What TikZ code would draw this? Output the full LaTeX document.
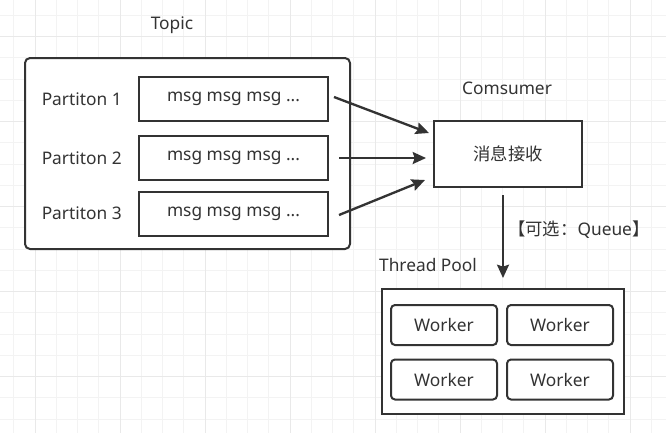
\documentclass[tikz,border=0pt]{standalone}
\usepackage{fontspec}
\setmainfont{Noto Sans}
\newfontfamily\cjk{Noto Sans CJK SC}
\usepackage{tikz}
\usetikzlibrary{arrows.meta, positioning, calc}
\definecolor{mqdark}{RGB}{51,51,51}
\definecolor{mqgrid}{RGB}{243,243,243}
\definecolor{mqgridmajor}{RGB}{233,233,233}
\tikzset{
  plainbox/.style={rectangle, draw=mqdark, line width=1.5pt, fill=white,
                   inner sep=0pt, text=mqdark, font=\fontsize{13}{15}\selectfont},
  groupbox/.style={plainbox, rounded corners=3.75pt},
  msgbox/.style={plainbox, minimum width=189*0.75pt, minimum height=44*0.75pt},
  workerbox/.style={plainbox, rounded corners=3pt,
                    minimum width=106*0.75pt, minimum height=40*0.75pt},
  caption/.style={inner sep=0pt, text=mqdark, font=\fontsize{13}{15}\selectfont},
  arrow/.style={-{Stealth[length=10pt, width=9pt, inset=1.5pt]},
                line width=1.75pt, draw=mqdark},
}

\begin{document}
\begin{tikzpicture}[x=0.75pt, y=-0.75pt]
  \useasboundingbox (0,0) rectangle (666,433);
  % background grid
  \foreach \i in {0,...,31} {
    \draw[mqgrid, line width=0.75pt] ({-7.5+21.25*\i},0) -- ({-7.5+21.25*\i},433);
  }
  \foreach \j in {0,...,20} {
    \draw[mqgrid, line width=0.75pt] (0,{-5.8+21.25*\j}) -- (666,{-5.8+21.25*\j});
  }
  \foreach \i in {0,...,7} {
    \draw[mqgridmajor, line width=0.75pt] ({35+85*\i},0) -- ({35+85*\i},433);
  }
  \foreach \j in {0,...,5} {
    \draw[mqgridmajor, line width=0.75pt] (0,{36.7+85*\j}) -- (666,{36.7+85*\j});
  }

  % topic with partitions
  \node[groupbox, minimum width=325*0.75pt, minimum height=191*0.75pt] (topic) at (187.5,153.5) {};
  \node[caption] (topiclbl) at (172,25) {Topic};
  \node[msgbox] (m1) at (233.5,99) {msg msg msg ...};
  \node[msgbox] (m2) at (233.5,158) {msg msg msg ...};
  \node[msgbox] (m3) at (233.5,213.5) {msg msg msg ...};
  \node[caption, left=12pt of m1] (p1) {Partiton 1};
  \node[caption, left=12pt of m2] (p2) {Partiton 2};
  \node[caption, left=12pt of m3] (p3) {Partiton 3};

  % consumer
  \node[plainbox, minimum width=148*0.75pt, minimum height=66*0.75pt] (recv) at (508,154) {\cjk 消息接收};
  \node[caption] (consumer) at (507,88) {Comsumer};

  % thread pool
  \node[plainbox, minimum width=242*0.75pt, minimum height=125*0.75pt] (pool) at (503,351.5) {};
  \node[caption] (poollbl) at (428,265) {Thread Pool};
  \node[workerbox] (w1) at (444,325) {Worker};
  \node[workerbox] (w2) at (560,325) {Worker};
  \node[workerbox] (w3) at (444,379.5) {Worker};
  \node[workerbox] (w4) at (560,379.5) {Worker};

  \draw[arrow] ($(m1.east)+(5,-2)$) -- ($(recv.west)+(-4,-21)$);
  \draw[arrow] ($(m2.east)+(10,0)$) -- ($(recv.west)+(-7,4)$);
  \draw[arrow] ($(m3.east)+(10,1.5)$) -- ($(recv.west)+(-8,26)$);
  \draw[arrow] ($(recv.south)+(-5,7)$) -- node[caption, pos=0.42, right=3pt] (queue) {{\cjk 【可选：}Queue{\cjk 】}} ($(pool.north)+(0,-10)$);
\end{tikzpicture}
\end{document}
